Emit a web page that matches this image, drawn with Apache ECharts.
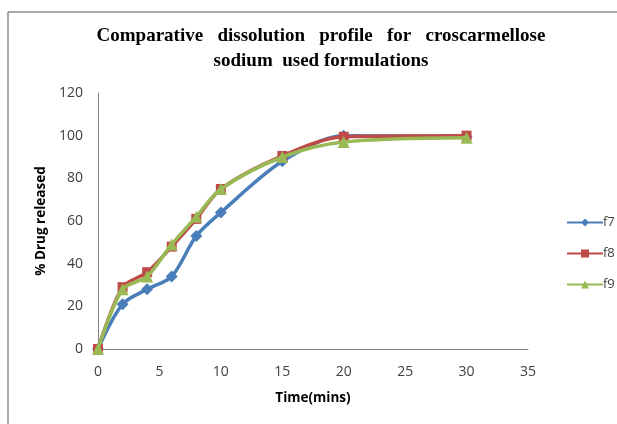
<!DOCTYPE html>
<html>
<head>
<meta charset="utf-8">
<script src="https://cdn.jsdelivr.net/npm/echarts@6/dist/echarts.min.js"></script>
<style>html,body{margin:0;padding:0;background:#fff}#c{width:617px;height:424px}</style>
</head>
<body>
<div id="c"></div>
<script>
var times = [0, 2, 4, 6, 8, 10, 15, 20, 30];
var f7 = [0, 21, 28, 34, 53, 64, 88, 100, 99.5];
var f8 = [0, 29, 36, 48, 61, 75, 90.5, 99.5, 100];
var f9 = [0, 28, 34, 49, 62, 75, 90, 97, 99];
var seriesNames = ['f7', 'f8', 'f9'];
var xTicks = [0, 5, 10, 15, 20, 25, 30, 35];
var yTicks = [0, 20, 40, 60, 80, 100, 120];

function pairs(vals) { return times.map(function (t, i) { return [t, vals[i]]; }); }

var chart = echarts.init(document.getElementById('c'));
var font = 'Open Sans';
chart.setOption({
  backgroundColor: '#fff',
  animation: false,
  title: {
    text: 'Comparative   dissolution   profile   for   croscarmellose\nsodium  used formulations',
    left: 316, top: 19, textAlign: 'center',
    textStyle: { fontFamily: 'Liberation Serif', fontWeight: 'bold', fontSize: 19, lineHeight: 25, color: '#000' }
  },
  graphic: [
    { type: 'line', shape: { x1: 8, y1: 12, x2: 8, y2: 424 }, style: { stroke: '#8c8c8c', lineWidth: 1.5 } },
    { type: 'line', shape: { x1: 8, y1: 12, x2: 617, y2: 12 }, style: { stroke: '#8c8c8c', lineWidth: 1.5 } }
  ],
  legend: {
    orient: 'vertical', left: 561, top: 211, itemGap: 18, itemWidth: 36, itemHeight: 10,
    data: seriesNames,
    textStyle: { fontFamily: font, fontSize: 13, color: '#404040', padding: [0, 0, 0, -5] }
  },
  grid: { left: 98, right: 89, top: 93, bottom: 75, containLabel: false },
  xAxis: {
    type: 'value', min: xTicks[0], max: xTicks[xTicks.length - 1], interval: 5,
    name: 'Time(mins)', nameLocation: 'middle', nameGap: 42,
    nameTextStyle: { fontFamily: font, fontWeight: 'bold', fontSize: 13.5, color: '#000' },
    axisLine: { lineStyle: { color: '#868686' } },
    axisTick: { show: false },
    splitLine: { show: false },
    axisLabel: { fontFamily: font, fontSize: 14, color: '#404040', margin: 16 }
  },
  yAxis: {
    type: 'value', min: yTicks[0], max: yTicks[yTicks.length - 1], interval: 20,
    name: '% Drug released', nameLocation: 'middle', nameGap: 48, nameRotate: 90,
    nameTextStyle: { fontFamily: font, fontWeight: 'bold', fontSize: 13.5, color: '#000' },
    axisLine: { show: true, lineStyle: { color: '#868686' } },
    axisTick: { show: false },
    splitLine: { show: false },
    axisLabel: { fontFamily: font, fontSize: 14, color: '#404040', margin: 15 }
  },
  series: [
    { name: 'f7', type: 'line', data: pairs(f7), smooth: 0.3, symbol: 'diamond', symbolSize: 12,
      itemStyle: { color: '#4a7ebb' }, lineStyle: { width: 3.5, color: '#4a7ebb' }, z: 2 },
    { name: 'f8', type: 'line', data: pairs(f8), smooth: 0.3, symbol: 'rect', symbolSize: 10,
      itemStyle: { color: '#be4b48' }, lineStyle: { width: 3.5, color: '#be4b48' }, z: 3 },
    { name: 'f9', type: 'line', data: pairs(f9), smooth: 0.3, symbol: 'triangle', symbolSize: 12,
      itemStyle: { color: '#98b954' }, lineStyle: { width: 3.5, color: '#98b954' }, z: 4 }
  ]
});
</script>
</body>
</html>
